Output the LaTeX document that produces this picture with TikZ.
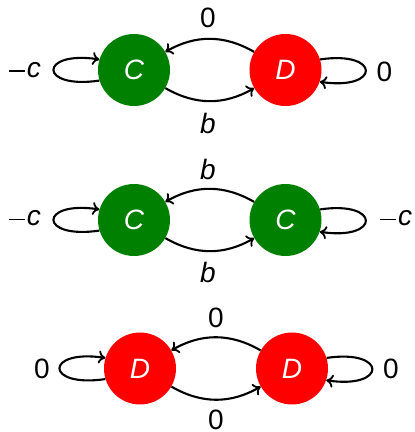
\documentclass[tikz,border=0pt]{standalone}
\usepackage{fontspec}
\setmainfont{Liberation Sans}
\usetikzlibrary{arrows.meta}
\definecolor{cgreen}{RGB}{0,128,0}
\definecolor{dred}{RGB}{255,0,0}
\newcommand{\mc}{\raisebox{5.5pt}{\rule{16pt}{1.6pt}}\hspace{2pt}\textit{c}}
\begin{document}
\begin{tikzpicture}[x=1pt,y=1pt,
  font=\fontsize{28}{30}\selectfont,
  state/.style={circle,minimum size=72pt,inner sep=0pt,text=white,font=\fontsize{28}{30}\selectfont\itshape},
  cst/.style={state,fill=cgreen},
  dst/.style={state,fill=dred},
  lbl/.style={inner sep=0pt},
  edge/.style={line width=2.1pt,-{Computer Modern Rightarrow[length=7pt,width=13pt,line width=1.8pt]}}]
\useasboundingbox (0,0) rectangle (415,432);
% Row 1
\node[cst] (C1) at (134,362) {C};
\node[dst] (D1) at (285.5,362) {D};
\draw[edge] (D1) to[bend right=30] (C1);
\draw[edge] (C1) to[bend right=30] (D1);
\draw[edge] (C1.197) .. controls +(-61,-9) and +(-61,9) .. (C1.163);
\draw[edge] (D1.17) .. controls +(61,9) and +(61,-9) .. (D1.-19);
\node[lbl] (t1) at (208,414) {0};
\node[lbl] (b1) at (208,309) {\textit{b}};
\node[lbl] (l1) at (25,362) {\mc};
\node[lbl] (r1) at (384.5,360) {0};
% Row 2
\node[cst] (C2) at (134,212) {C};
\node[cst] (C3) at (285.5,212) {C};
\draw[edge] (C3) to[bend right=30] (C2);
\draw[edge] (C2) to[bend right=30] (C3);
\draw[edge] (C2.197) .. controls +(-61,-9) and +(-61,9) .. (C2.163);
\draw[edge] (C3.17) .. controls +(61,9) and +(61,-9) .. (C3.-19);
\node[lbl] (t2) at (208,263) {\textit{b}};
\node[lbl] (b2) at (208,159.5) {\textit{b}};
\node[lbl] (l2) at (25,213.5) {\mc};
\node[lbl] (r2) at (396,213.5) {\mc};
% Row 3
\node[dst] (D2) at (140,63.5) {D};
\node[dst] (D3) at (292,63.5) {D};
\draw[edge] (D3) to[bend right=30] (D2);
\draw[edge] (D2) to[bend right=30] (D3);
\draw[edge] (D2.197) .. controls +(-61,-9) and +(-61,9) .. (D2.163);
\draw[edge] (D3.17) .. controls +(61,9) and +(61,-9) .. (D3.-19);
\node[lbl] (t3) at (216,114.5) {0};
\node[lbl] (b3) at (216,12.5) {0};
\node[lbl] (l3) at (42,63) {0};
\node[lbl] (r3) at (391,63) {0};
\end{tikzpicture}
\end{document}
